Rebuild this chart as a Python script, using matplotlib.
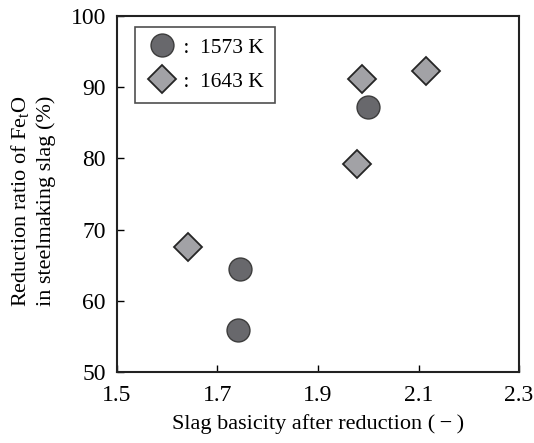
import matplotlib
matplotlib.use("Agg")
import matplotlib.pyplot as plt

plt.rcParams['font.family'] = ['Liberation Serif', 'DejaVu Serif']
plt.rcParams['mathtext.fontset'] = 'custom'
plt.rcParams['mathtext.rm'] = 'Liberation Serif'

# 1573 K (circles)
basicity_1573 = [1.745, 1.741, 2.000]
ratio_1573 = [64.5, 55.9, 87.2]

# 1643 K (diamonds)
basicity_1643 = [1.641, 1.978, 1.988, 2.115]
ratio_1643 = [67.6, 79.2, 91.2, 92.3]

xticks = [1.5, 1.7, 1.9, 2.1, 2.3]
yticks = [50, 60, 70, 80, 90, 100]

fig = plt.figure(figsize=(5.34, 4.43), dpi=100)
ax = fig.add_axes([0.219, 0.160, 0.753, 0.804])

ax.plot(basicity_1573, ratio_1573, linestyle='none', marker='o', markersize=16.5,
        markerfacecolor='#68686c', markeredgecolor='#3c3c3c', markeredgewidth=1.0,
        label=' :  1573 K')
ax.plot(basicity_1643, ratio_1643, linestyle='none', marker='D', markersize=14.5,
        markerfacecolor='#a2a2a6', markeredgecolor='#262626', markeredgewidth=1.3,
        label=' :  1643 K')

ax.set_xlim(1.5, 2.3)
ax.set_ylim(50, 100)
ax.set_xticks(xticks)
ax.set_yticks(yticks)
ax.set_xticklabels(['%.1f' % t for t in xticks])
ax.tick_params(direction='in', length=5, width=1, labelsize=17, top=False, right=False)
ax.tick_params(axis='x', pad=9)
ax.tick_params(axis='y', pad=8)
for s in ax.spines.values():
    s.set_linewidth(1.5)
    s.set_color('#222222')

ax.set_xlabel('Slag basicity after reduction (\u2009\u2212\u2009)', fontsize=16, labelpad=6)
ax.set_ylabel('Reduction ratio of Fe$_\\mathregular{t}$O\nin steelmaking slag (%)',
              fontsize=16, linespacing=1.25)
ax.yaxis.set_label_coords(-0.152, 0.48)

leg = ax.legend(loc='upper left', bbox_to_anchor=(0.045, 0.969), fontsize=15.5,
                frameon=True, fancybox=False, handletextpad=0.0, borderpad=0.5,
                labelspacing=0.65, handlelength=1.5, markerscale=1.0, borderaxespad=0)
leg.get_frame().set_edgecolor('#222222')
leg.get_frame().set_linewidth(1.2)

fig.savefig('out.png', dpi=100)
